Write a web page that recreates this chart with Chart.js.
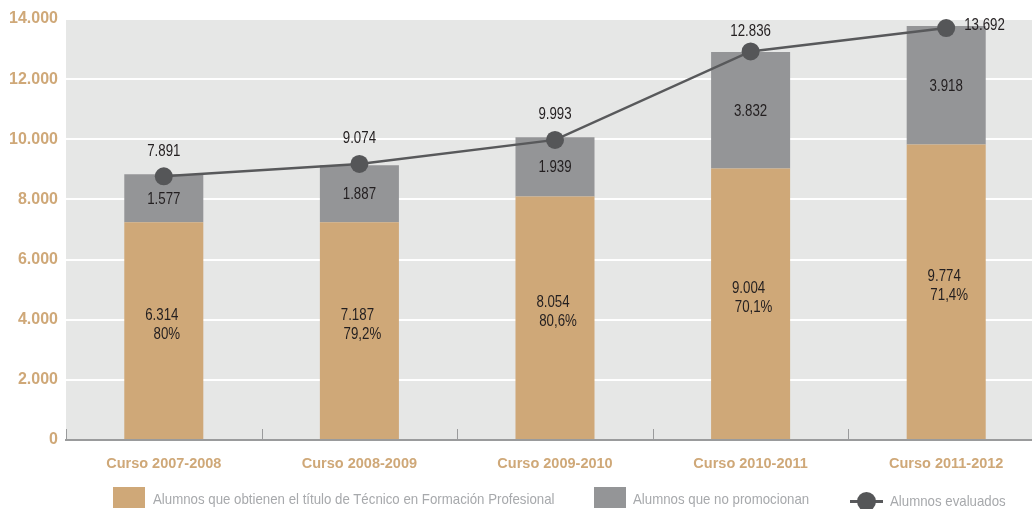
<!DOCTYPE html>
<html>
<head>
<meta charset="utf-8">
<script src="https://cdn.jsdelivr.net/npm/chart.js@4.4.1/dist/chart.umd.min.js"></script>
<style>
  html, body { margin: 0; padding: 0; background: #fff; overflow: hidden; }
  .wrap { position: relative; width: 1032px; height: 509px; overflow: hidden; }
  #chart { position: absolute; left: 0; top: 0; }
  .lg { position: absolute; font-family: 'Liberation Sans', sans-serif; font-size: 15px; color: #a7a9ac; line-height: 16px; white-space: nowrap; transform: scaleX(0.884); transform-origin: 0 0; }
  .sq { position: absolute; width: 32px; height: 21px; }
</style>
</head>
<body>
<div class="wrap">
  <canvas id="chart" width="1053" height="509"></canvas>
  <div class="sq" style="left:113px;top:487px;background:#cfa878"></div>
  <div class="lg" style="left:153px;top:491px">Alumnos que obtienen el título de Técnico en Formación Profesional</div>
  <div class="sq" style="left:594px;top:487px;background:#949597"></div>
  <div class="lg" style="left:633px;top:491px">Alumnos que no promocionan</div>
  <div style="position:absolute;left:850px;top:500px;width:33px;height:3px;background:#58595b"></div>
  <div style="position:absolute;left:857px;top:492px;width:19px;height:19px;border-radius:50%;background:#555658"></div>
  <div class="lg" style="left:890px;top:493px">Alumnos evaluados</div>
</div>
<script>
// valores (alturas dibujadas)
const cursos = ["Curso 2007-2008", "Curso 2008-2009", "Curso 2009-2010", "Curso 2010-2011", "Curso 2011-2012"];
const tituloTecnico = [7240, 7240, 8100, 9030, 9830];
const noPromocionan = [1600, 1900, 1970, 3870, 3940];
const evaluados = [8770, 9180, 9980, 12920, 13700];

// textos de las etiquetas
const tituloLabels = ["6.314", "7.187", "8.054", "9.004", "9.774"];
const tituloPct = ["80%", "79,2%", "80,6%", "70,1%", "71,4%"];
const noPromLabels = ["1.577", "1.887", "1.939", "3.832", "3.918"];
const evaluadosLabels = ["7.891", "9.074", "9.993", "12.836", "13.692"];

const yTicks = [0, 2000, 4000, 6000, 8000, 10000, 12000, 14000];

const labelFont = "16px 'Liberation Sans', sans-serif";
const narrow = 0.83;

// condensed text, like the original's narrow type
function narrowText(ctx, txt, x, y, align) {
    ctx.save();
    ctx.translate(x, y);
    ctx.scale(narrow, 1);
    ctx.textAlign = align || "center";
    ctx.fillText(txt, 0, 0);
    ctx.restore();
}

const bgPlugin = {
    id: "plotBg",
    beforeDraw(chart) {
        const { ctx, chartArea: a } = chart;
        ctx.save();
        ctx.fillStyle = "#e6e7e6";
        ctx.fillRect(a.left, a.top, a.right - a.left, a.bottom - a.top);
        ctx.restore();
    },
    afterDraw(chart) {
        // small ticks between categories, pointing up
        const { ctx, chartArea: a } = chart;
        const xs = chart.scales.x;
        ctx.save();
        ctx.strokeStyle = "#9a9b9c";
        ctx.lineWidth = 1;
        for (let i = 0; i <= cursos.length; i++) {
            const x = Math.round(xs.getPixelForValue(i - 0.5)) + 0.5;
            ctx.beginPath();
            ctx.moveTo(x, a.bottom);
            ctx.lineTo(x, a.bottom - 11);
            ctx.stroke();
        }
        ctx.restore();
    }
};

const labelsPlugin = {
    id: "valueLabels",
    afterDatasetsDraw(chart) {
        const { ctx } = chart;
        const tan = chart.getDatasetMeta(0).data;
        const gray = chart.getDatasetMeta(1).data;
        const line = chart.getDatasetMeta(2).data;
        ctx.save();
        ctx.font = labelFont;
        ctx.fillStyle = "#231f20";
        ctx.textBaseline = "middle";
        tan.forEach((bar, i) => {
            const mid = (bar.y + bar.base) / 2 - 6;
            narrowText(ctx, tituloLabels[i], bar.x - 2, mid - 9);
            narrowText(ctx, tituloPct[i], bar.x + 3, mid + 10);
        });
        gray.forEach((bar, i) => {
            narrowText(ctx, noPromLabels[i], bar.x, (bar.y + bar.base) / 2 + 1);
        });
        line.forEach((pt, i) => {
            if (i === line.length - 1) {
                narrowText(ctx, evaluadosLabels[i], pt.x + 18, pt.y - 2, "left");
            } else {
                narrowText(ctx, evaluadosLabels[i], pt.x, pt.y - (i === 3 ? 20 : 25));
            }
        });
        ctx.restore();
    }
};

new Chart(document.getElementById("chart"), {
    type: "bar",
    data: {
        labels: cursos,
        datasets: [
            {
                label: "Alumnos que obtienen el título de Técnico en Formación Profesional",
                data: tituloTecnico,
                backgroundColor: "#cfa878",
                categoryPercentage: 1,
                barPercentage: 0.404,
                order: 1,
            },
            {
                label: "Alumnos que no promocionan",
                data: noPromocionan,
                backgroundColor: "#949597",
                categoryPercentage: 1,
                barPercentage: 0.404,
                order: 2,
            },
            {
                type: "line",
                label: "Alumnos evaluados",
                data: evaluados,
                stack: "evaluados",
                borderColor: "#58595b",
                borderWidth: 2.5,
                pointRadius: 9,
                pointBackgroundColor: "#555658",
                pointBorderWidth: 0,
                tension: 0,
                order: 0,
            },
        ],
    },
    options: {
        responsive: false,
        animation: false,
        layout: { padding: { top: 19, right: 0, bottom: 0, left: 0 } },
        plugins: {
            legend: { display: false },
            tooltip: { enabled: false },
        },
        scales: {
            x: {
                stacked: true,
                afterFit: (s) => { s.height = 69; },
                grid: { display: false },
                border: { display: true, color: "#9a9b9c", width: 2 },
                ticks: {
                    color: "#cfa878",
                    padding: 7,
                    font: { family: "'Liberation Sans', sans-serif", size: 14.5, weight: "bold" },
                },
            },
            y: {
                stacked: true,
                min: 0,
                max: 14000,
                afterFit: (s) => { s.width = 66; },
                afterBuildTicks: (s) => { s.ticks = yTicks.map((v) => ({ value: v })); },
                grid: { color: "#ffffff", lineWidth: 2, drawTicks: false },
                border: { display: false },
                ticks: {
                    color: "#cfa878",
                    padding: 8,
                    font: { family: "'Liberation Sans', sans-serif", size: 16, weight: "bold" },
                    callback: (v) => v.toLocaleString("de-DE"),
                },
            },
        },
    },
    plugins: [bgPlugin, labelsPlugin],
});
</script>
</body>
</html>
